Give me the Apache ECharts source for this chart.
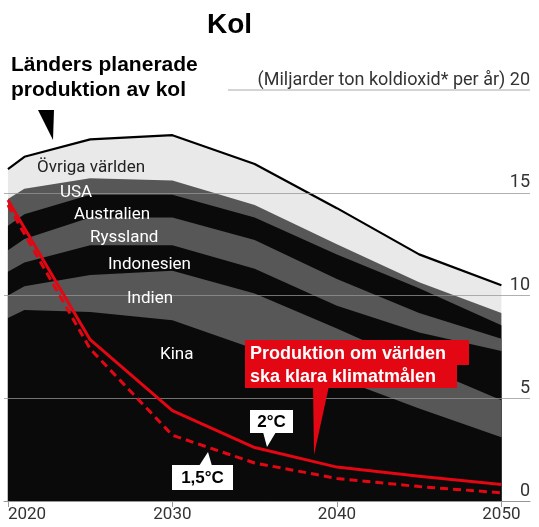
<!DOCTYPE html>
<html>
<head>
<meta charset="utf-8">
<script src="https://cdn.jsdelivr.net/npm/echarts@6/dist/echarts.min.js"></script>
<style>
  html, body { margin: 0; padding: 0; background: #fff; }
  #chart { width: 539px; height: 527px; }
</style>
</head>
<body>
<div id="chart"></div>
<script>
// years with planned production points
const years = [2020, 2021, 2025, 2030, 2035, 2040, 2045, 2050]
// planned production by country (billion t CO2 / year), bottom to top
const kina = [8.9, 9.3, 9.2, 8.8, 7.4, 6.0, 4.5, 3.1]
const indien = [1.1, 1.15, 1.8, 2.4, 2.7, 2.4, 2.1, 1.8]
const indonesien = [1.15, 1.15, 1.45, 1.25, 1.2, 1.1, 1.6, 2.4]
const ryssland = [1.05, 1.15, 1.35, 1.35, 1.4, 1.3, 0.95, 0.6]
const australien = [1.2, 1.2, 1.1, 1.1, 1.1, 1.2, 1.2, 0.65]
const usa = [1.3, 1.25, 0.8, 0.7, 0.6, 0.5, 0.3, 0.6]
const ovriga = [1.45, 1.55, 1.9, 2.2, 2.0, 1.75, 1.35, 1.35]

// production compatible with the climate goals
const goalYears = [2020, 2025, 2030, 2035, 2040, 2045, 2050]
const twoDeg = [14.65, 7.85, 4.4, 2.6, 1.65, 1.2, 0.8]
const onePointFive = [14.4, 7.4, 3.2, 1.85, 1.1, 0.7, 0.4]

const xTicks = [2020, 2030, 2040, 2050]

const chart = echarts.init(document.getElementById('chart'))

const pairs = (xs, ys) => xs.map((x, i) => [x, ys[i]])

// stack by hand: each band is drawn from 0 to its cumulative top,
// upper bands first so the lower ones paint over them
const bands = [
  { name: 'Kina', values: kina, color: '#0a0a0a' },
  { name: 'Indien', values: indien, color: '#575757' },
  { name: 'Indonesien', values: indonesien, color: '#0a0a0a' },
  { name: 'Ryssland', values: ryssland, color: '#575757' },
  { name: 'Australien', values: australien, color: '#0a0a0a' },
  { name: 'USA', values: usa, color: '#575757' },
  { name: 'Övriga världen', values: ovriga, color: '#e9e9e9' }
]
let running = years.map(() => 0)
bands.forEach(b => {
  running = running.map((s, i) => +(s + b.values[i]).toFixed(3))
  b.top = running.slice()
})

const bandSeries = bands.slice().reverse().map((b, i) => ({
  name: b.name,
  type: 'line',
  data: pairs(years, b.top),
  symbol: 'none',
  lineStyle: i === 0 ? { color: '#000', width: 2.2 } : { width: 0 },
  areaStyle: { color: b.color, opacity: 1 },
  z: 2
}))

const bodyFont = 'Roboto'
const boldFont = '"Liberation Sans", Arial, sans-serif'
const gridColor = 'rgba(150,150,150,0.75)'

const bandLabel = (text, x, y, color) => ({
  type: 'text',
  x: x,
  y: y,
  z: 30,
  style: { text: text, fill: color || '#fff', font: '17px ' + bodyFont, verticalAlign: 'middle' }
})

const option = {
  backgroundColor: '#ffffff',
  animation: false,
  grid: { left: 4, right: 9, top: 90, bottom: 26 },
  xAxis: {
    type: 'value',
    min: 2019.76,
    max: 2051.74,
    axisLine: { lineStyle: { color: '#999', width: 1 } },
    axisTick: { customValues: xTicks, length: 6, lineStyle: { color: '#999' } },
    axisLabel: {
      customValues: xTicks,
      formatter: v => String(v),
      color: '#333',
      fontSize: 17,
      fontFamily: bodyFont,
      margin: 5,
      alignMinLabel: 'left'
    },
    splitLine: { show: false }
  },
  yAxis: {
    type: 'value',
    position: 'right',
    min: 0,
    max: 20,
    interval: 5,
    z: 10,
    axisLine: { show: false },
    axisTick: { show: false },
    axisLabel: {
      inside: true,
      margin: 0,
      verticalAlign: 'bottom',
      padding: [0, 0, 1, 0],
      color: '#333',
      fontSize: 18,
      fontFamily: bodyFont,
      formatter: v => v === 20 ? '(Miljarder ton koldioxid* per år) 20' : String(v)
    },
    splitLine: { lineStyle: { color: [gridColor, gridColor, gridColor, gridColor, 'rgba(0,0,0,0)'], width: 1 } }
  },
  series: bandSeries.concat([
    {
      name: '2°C',
      type: 'line',
      data: pairs(goalYears, twoDeg),
      symbol: 'none',
      lineStyle: { color: '#e30613', width: 3 },
      z: 20
    },
    {
      name: '1,5°C',
      type: 'line',
      data: pairs(goalYears, onePointFive),
      symbol: 'none',
      lineStyle: { color: '#e30613', width: 3, type: [8, 5] },
      z: 20
    }
  ]),
  graphic: [
    { type: 'text', left: 207, top: 11, style: { text: 'Kol', fill: '#000', font: 'bold 28px ' + boldFont } },
    { type: 'text', left: 11, top: 53, style: { text: 'Länders planerade\nproduktion av kol', fill: '#000', font: 'bold 21px ' + boldFont, lineHeight: 25 } },
    { type: 'polygon', shape: { points: [[38, 110], [54, 110], [53, 140]] }, style: { fill: '#000' }, z: 30 },
    { type: 'line', shape: { x1: 228, y1: 90, x2: 530, y2: 90 }, style: { stroke: '#aaa', lineWidth: 1 } },
    bandLabel('Övriga världen', 37, 168, '#222'),
    bandLabel('USA', 60, 193),
    bandLabel('Australien', 74, 215),
    bandLabel('Ryssland', 90, 238),
    bandLabel('Indonesien', 108, 265),
    bandLabel('Indien', 127, 299),
    bandLabel('Kina', 160, 355),
    // red annotation
    { type: 'rect', shape: { x: 245, y: 340, width: 224, height: 25 }, style: { fill: '#e30613' }, z: 30 },
    { type: 'rect', shape: { x: 245, y: 363, width: 212, height: 25 }, style: { fill: '#e30613' }, z: 30 },
    { type: 'polygon', shape: { points: [[313, 386], [329, 386], [314, 455]] }, style: { fill: '#e30613' }, z: 30 },
    { type: 'text', left: 250, top: 343, z: 31, style: { text: 'Produktion om världen\nska klara klimatmålen', fill: '#fff', font: 'bold 18px ' + boldFont, lineHeight: 23 } },
    // 2°C label
    { type: 'rect', shape: { x: 250, y: 410, width: 43, height: 23 }, style: { fill: '#fff' }, z: 30 },
    { type: 'polygon', shape: { points: [[263, 432], [276, 432], [267, 447]] }, style: { fill: '#fff' }, z: 30 },
    { type: 'text', x: 271.5, y: 422, z: 31, style: { text: '2°C', fill: '#000', font: 'bold 17px ' + boldFont, align: 'center', verticalAlign: 'middle' } },
    // 1,5°C label
    { type: 'rect', shape: { x: 172, y: 465, width: 61, height: 25 }, style: { fill: '#fff' }, z: 30 },
    { type: 'polygon', shape: { points: [[199, 466], [212, 466], [208, 452]] }, style: { fill: '#fff' }, z: 30 },
    { type: 'text', x: 202.5, y: 478, z: 31, style: { text: '1,5°C', fill: '#000', font: 'bold 17px ' + boldFont, align: 'center', verticalAlign: 'middle' } }
  ]
}

chart.setOption(option, true)
</script>
</body>
</html>
